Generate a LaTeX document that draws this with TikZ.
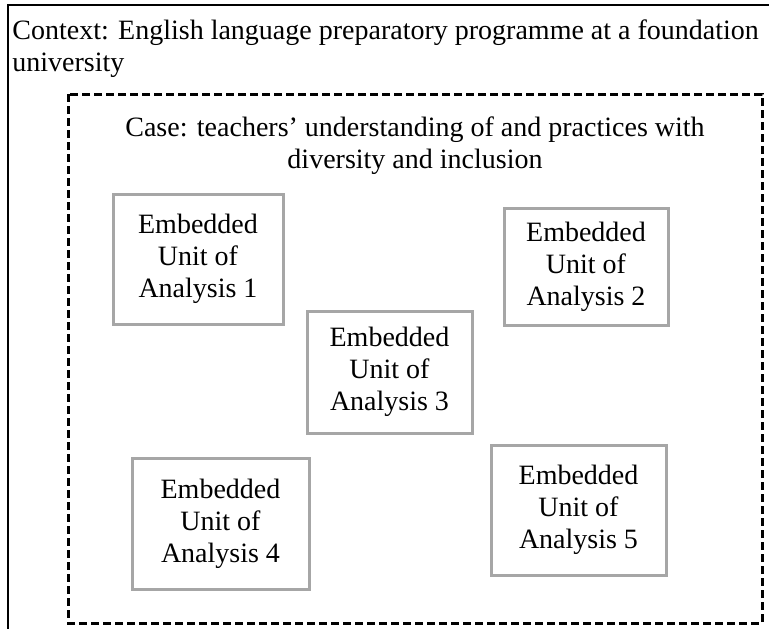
\documentclass[tikz,border=0pt]{standalone}
\usepackage{fontspec}
\setmainfont{Liberation Serif}
\usepackage{xcolor}
\colorlet{colUnitLine}{black!35}
\usepackage{tikz}
\usetikzlibrary{positioning}
\tikzset{
	ctxbox/.style={draw, line width=1pt},
	casebox/.style={draw, line width=1.5pt, dash pattern=on 4pt off 2pt},
	unitbox/.style={draw=colUnitLine, line width=1.5pt, align=center, inner sep=0pt, font=\fontsize{14pt}{16pt}\selectfont},
	plaintext/.style={inner sep=0pt, font=\fontsize{14pt}{16pt}\selectfont},
}

\begin{document}
\begin{tikzpicture}[x=0.5pt, y=-0.5pt]
	\clip (0,0) rectangle (769,628);

	% Context frame (runs off the page at right and bottom)
	\draw[ctxbox] (8,5) rectangle (790,650);
	\node[plaintext, anchor=north west, align=left] (ctx) at (12,19) {Context: English language preparatory programme at a foundation\\university};

	% Case frame
	\draw[casebox] (68,94) rectangle (762,623);
	\node[plaintext, anchor=north, align=center] (case) at (415,116) {Case: teachers’ understanding of and practices with\\diversity and inclusion};

	% Embedded units
	\node[unitbox, minimum width=85pt, minimum height=65pt] (u1) at (198,259) {Embedded\\Unit of\\Analysis 1};
	\node[unitbox, minimum width=82pt, minimum height=58.5pt] (u2) at (586,266.5) {Embedded\\Unit of\\Analysis 2};
	\node[unitbox, minimum width=82.5pt, minimum height=61pt] (u3) at (389.5,372) {Embedded\\Unit of\\Analysis 3};
	\node[unitbox, minimum width=88.5pt, minimum height=65.5pt] (u4) at (220.5,523.5) {Embedded\\Unit of\\Analysis 4};
	\node[unitbox, minimum width=87.5pt, minimum height=65pt] (u5) at (578.5,510) {Embedded\\Unit of\\Analysis 5};
\end{tikzpicture}
\end{document}
